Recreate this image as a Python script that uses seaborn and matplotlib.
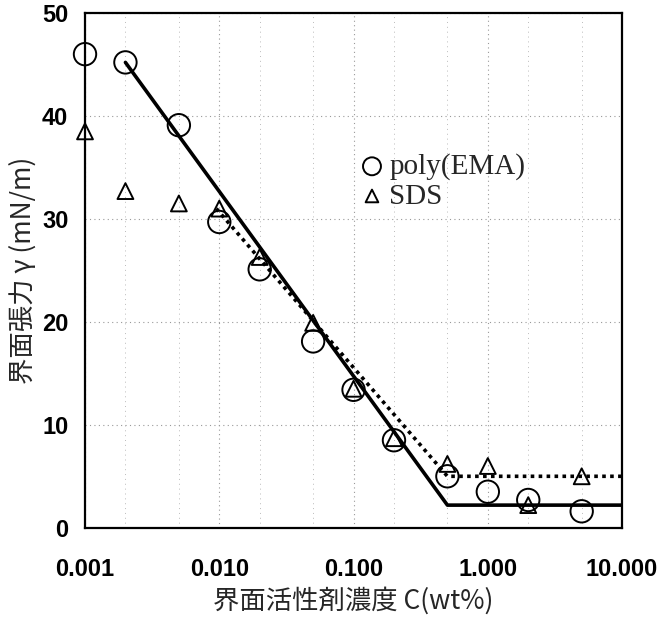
import matplotlib
matplotlib.use('Agg')
import matplotlib.pyplot as plt
import matplotlib.ticker as mticker
import seaborn as sns
import pandas as pd

# データ
conc = [0.001, 0.002, 0.005, 0.01, 0.02, 0.05, 0.1, 0.2, 0.5, 1.0, 2.0, 5.0]
gamma_ema = [46.0, 45.2, 39.1, 29.7, 25.1, 18.1, 13.4, 8.5, 5.0, 3.5, 2.7, 1.6]
gamma_sds = [38.5, 32.7, 31.5, 31.0, 26.3, 19.9, 13.5, 8.7, 6.2, 6.0, 2.2, 5.0]

# 近似直線 (折れ点)
fit_ema_x = [0.002, 0.5, 10.0]
fit_ema_y = [45.2, 2.2, 2.2]
fit_sds_x = [0.0095, 0.5, 10.0]
fit_sds_y = [31.0, 5.0, 5.0]

x_ticks = [0.001, 0.01, 0.1, 1.0, 10.0]
y_ticks = [0, 10, 20, 30, 40, 50]

df_ema = pd.DataFrame({'C': conc, 'gamma': gamma_ema})
df_sds = pd.DataFrame({'C': conc, 'gamma': gamma_sds})
df_fit_ema = pd.DataFrame({'C': fit_ema_x, 'gamma': fit_ema_y})
df_fit_sds = pd.DataFrame({'C': fit_sds_x, 'gamma': fit_sds_y})

sns.set_theme(style="white")
plt.rcParams['font.family'] = ['Liberation Sans', 'DejaVu Sans']

fig = plt.figure(figsize=(6.59, 6.18), dpi=100)
ax = fig.add_axes([0.129, 0.146, 0.815, 0.833])

sns.lineplot(data=df_fit_ema, x='C', y='gamma', sort=False, color='black',
             linewidth=2.6, ax=ax, legend=False)
sns.lineplot(data=df_fit_sds, x='C', y='gamma', sort=False, color='black',
             linewidth=2.6, linestyle=(0, (1, 1.2)), ax=ax, legend=False)

sns.scatterplot(data=df_ema, x='C', y='gamma', marker='o', s=260,
                facecolors='none', edgecolor='black', linewidth=1.4,
                ax=ax, label='poly(EMA)', zorder=5, clip_on=False)
sns.scatterplot(data=df_sds, x='C', y='gamma', marker='^', s=130,
                facecolors='none', edgecolor='black', linewidth=1.4,
                ax=ax, label='SDS', zorder=5, clip_on=False)

ax.set_xscale('log')
ax.set_xlim(0.001, 10.0)
ax.set_ylim(0, 50)
ax.set_xticks(x_ticks)
ax.xaxis.set_major_formatter(mticker.FuncFormatter(lambda v, p: f'{v:.3f}'))
ax.xaxis.set_minor_locator(mticker.LogLocator(base=10, subs=[2, 5]))
ax.xaxis.set_minor_formatter(mticker.NullFormatter())
ax.set_yticks(y_ticks)

ax.grid(True, which='major', color='#999999', linestyle=(0, (1, 3)), linewidth=0.8)
ax.grid(True, which='minor', axis='x', color='#bbbbbb', linestyle=(0, (1, 4)), linewidth=0.7)

for s in ax.spines.values():
    s.set_color('black')
    s.set_linewidth(1.6)

ax.tick_params(axis='x', which='both', length=0, pad=22)
ax.tick_params(axis='y', which='both', length=0, pad=12)
for lab in ax.get_xticklabels() + ax.get_yticklabels():
    lab.set_fontsize(17)
    lab.set_fontweight('bold')
    lab.set_color('black')

ax.set_xlabel('界面活性剤濃度 C(wt%)', fontsize=19,
              family=['Noto Sans CJK JP', 'DejaVu Sans'], labelpad=4)
ax.set_ylabel('界面張力 γ (mN/m)', fontsize=19,
              family=['Noto Sans CJK JP', 'DejaVu Sans'], labelpad=4)

leg = ax.legend(loc='upper left', bbox_to_anchor=(0.48, 0.75), frameon=False,
                handletextpad=0.0, borderaxespad=0, labelspacing=0.1,
                handlelength=1.2,
                prop={'family': 'Liberation Serif', 'size': 21},
                markerscale=0.8)

fig.savefig('out.png', dpi=100)
